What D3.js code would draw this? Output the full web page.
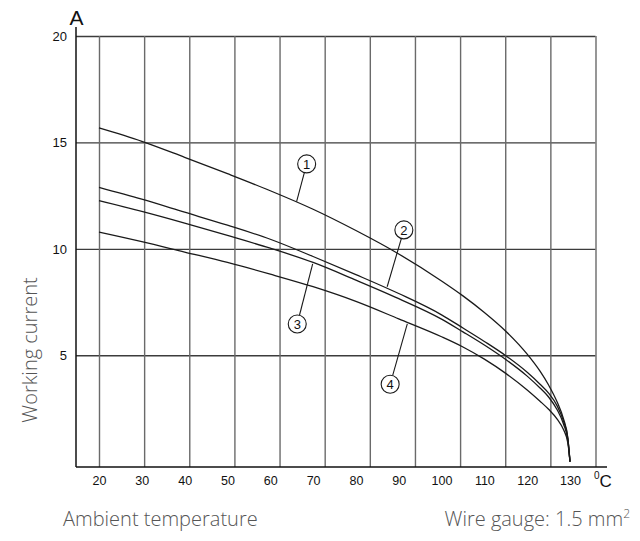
<!DOCTYPE html>
<html><head><meta charset="utf-8">
<script src="https://cdn.jsdelivr.net/npm/d3@7"></script>
<style>body{margin:0;background:#fff} svg{display:block}</style>
</head><body>
<svg id="chart" width="640" height="541"></svg>
<script>
// ---- data ----
const xTickLabels = [20, 30, 40, 50, 60, 70, 80, 90, 100, 110, 120, 130];
const gridTemps   = [20, 30, 40, 50, 60, 70, 80, 90, 100, 110, 120, 130];
const yTickLabels = [5, 10, 15, 20];
const temps  = [20, 30, 40, 50, 60, 70, 80, 90, 100, 105, 110, 115, 120, 123, 125, 127, 128.5, 129.5, 130];
const curve1 = [15.68, 15.05, 14.30, 13.53, 12.73, 11.86, 10.86, 9.76, 8.49, 7.79, 7.01, 6.13, 5.05, 4.25, 3.60, 2.80, 2.00, 1.10, 0];
const curve2 = [12.89, 12.33, 11.72, 11.11, 10.45, 9.64, 8.79, 7.90, 6.90, 6.28, 5.65, 4.98, 4.20, 3.64, 3.22, 2.62, 1.90, 1.08, 0];
const curve3 = [12.27, 11.76, 11.21, 10.63, 10.03, 9.36, 8.53, 7.66, 6.70, 6.10, 5.48, 4.80, 4.02, 3.46, 3.04, 2.44, 1.76, 1.00, 0];
const curve4 = [10.79, 10.34, 9.85, 9.36, 8.81, 8.22, 7.53, 6.71, 5.87, 5.39, 4.82, 4.15, 3.37, 2.84, 2.46, 2.00, 1.50, 0.88, 0];
const seriesLabels = ["1", "2", "3", "4"];
// callouts: circle centre (temp, current) and leader end on the curve (temp, current)
const calloutCentreT = [68.5, 91.2, 66.3, 88.0];
const calloutCentreI = [13.99, 10.89, 6.47, 3.64];
const calloutTargetT = [66.15, 87.3, 69.9, 92.0];
const calloutTargetI = [12.22, 8.22, 9.29, 6.47];
const xTitle = "Ambient temperature";
const yTitle = "Working current";
const yUnit = "A";
const note = "Wire gauge: 1.5 mm";

// ---- layout ----
const svg = d3.select("#chart");
const x = d3.scaleLinear().domain([20, 130]).range([99, 570]);
const xGrid = d3.scaleLinear().domain([20, 130]).range([99, 595.5]);
const y = d3.scaleLinear().domain([-0.25, 20]).range([467, 36]);
const axisX0 = 76, axisYBottom = 467;
const titleFont = "'Open Sans', 'Noto Sans', sans-serif";

// horizontal grid + y labels
const gy = svg.append("g").attr("transform", `translate(${axisX0},0)`)
  .call(d3.axisLeft(y).tickValues(yTickLabels).tickSize(-(xGrid(130) - axisX0)).tickPadding(9));
gy.select(".domain").remove();
gy.selectAll(".tick line").attr("stroke", "#3c3c3c").attr("stroke-width", 1.3);
gy.selectAll(".tick text").attr("font-family", "Liberation Sans, Arial, sans-serif")
  .attr("font-size", 13).attr("fill", "#111");

// vertical grid
const gx = svg.append("g").attr("transform", `translate(0,${axisYBottom})`)
  .call(d3.axisBottom(xGrid).tickValues(gridTemps).tickSize(-(axisYBottom - y(20))).tickFormat(""));
gx.select(".domain").remove();
gx.selectAll(".tick line").attr("stroke", "#6a6a6a").attr("stroke-width", 1.4);

// x tick labels
const gxl = svg.append("g").attr("transform", `translate(0,${axisYBottom})`)
  .call(d3.axisBottom(x).tickValues(xTickLabels).tickSize(0).tickPadding(9));
gxl.select(".domain").remove();
gxl.selectAll(".tick text").attr("font-family", "Liberation Sans, Arial, sans-serif")
  .attr("font-size", 12.5).attr("fill", "#111");

// axis lines
svg.append("line").attr("x1", axisX0).attr("x2", axisX0).attr("y1", 27).attr("y2", axisYBottom)
  .attr("stroke", "#111").attr("stroke-width", 1.5);
svg.append("line").attr("x1", axisX0).attr("x2", 607).attr("y1", axisYBottom).attr("y2", axisYBottom)
  .attr("stroke", "#111").attr("stroke-width", 1.5);

// unit labels
svg.append("text").attr("x", 76.5).attr("y", 24.5).attr("text-anchor", "middle")
  .attr("font-family", "Liberation Sans, Arial, sans-serif").attr("font-size", 21).attr("fill", "#111").text(yUnit);
const cu = svg.append("text").attr("x", 594).attr("y", 487)
  .attr("font-family", "Liberation Sans, Arial, sans-serif").attr("fill", "#111");
cu.append("tspan").attr("font-size", 10).attr("dy", -8).text("0");
cu.append("tspan").attr("font-size", 17).attr("dy", 8).text("C");

// curves
const line = d3.line().x(d => x(d[0])).y(d => y(d[1])).curve(d3.curveMonotoneX);
[curve1, curve2, curve3, curve4].forEach(vals => {
  svg.append("path").datum(temps.map((t, i) => [t, vals[i]]))
    .attr("d", line).attr("fill", "none").attr("stroke", "#1a1a1a").attr("stroke-width", 1.3);
});

// callouts
const r = 9;
seriesLabels.forEach((lab, i) => {
  const cx = x(calloutCentreT[i]), cy = y(calloutCentreI[i]);
  const tx = x(calloutTargetT[i]), ty = y(calloutTargetI[i]);
  const dx = tx - cx, dy = ty - cy, len = Math.hypot(dx, dy);
  svg.append("line").attr("x1", cx + dx / len * r).attr("y1", cy + dy / len * r)
    .attr("x2", tx).attr("y2", ty).attr("stroke", "#1a1a1a").attr("stroke-width", 1.1);
  svg.append("circle").attr("cx", cx).attr("cy", cy).attr("r", r)
    .attr("fill", "#fff").attr("stroke", "#1a1a1a").attr("stroke-width", 1.1);
  svg.append("text").attr("x", cx).attr("y", cy).attr("dy", "0.36em").attr("text-anchor", "middle")
    .attr("font-family", "Liberation Sans, Arial, sans-serif").attr("font-size", 13).attr("fill", "#111").text(lab);
});

// titles
svg.append("text").attr("x", 63).attr("y", 526).attr("font-family", titleFont)
  .attr("font-weight", 300).attr("font-size", 20).attr("fill", "#555").text(xTitle);
const nt = svg.append("text").attr("x", 630).attr("y", 526).attr("text-anchor", "end")
  .attr("font-family", titleFont).attr("font-weight", 300).attr("font-size", 20).attr("fill", "#555");
nt.append("tspan").text(note);
nt.append("tspan").attr("font-size", 12).attr("dy", -8).text("2");
svg.append("text").attr("transform", "translate(37,350) rotate(-90)").attr("text-anchor", "middle")
  .attr("font-family", titleFont).attr("font-weight", 300).attr("font-size", 20).attr("fill", "#555").text(yTitle);
</script>
</body></html>
